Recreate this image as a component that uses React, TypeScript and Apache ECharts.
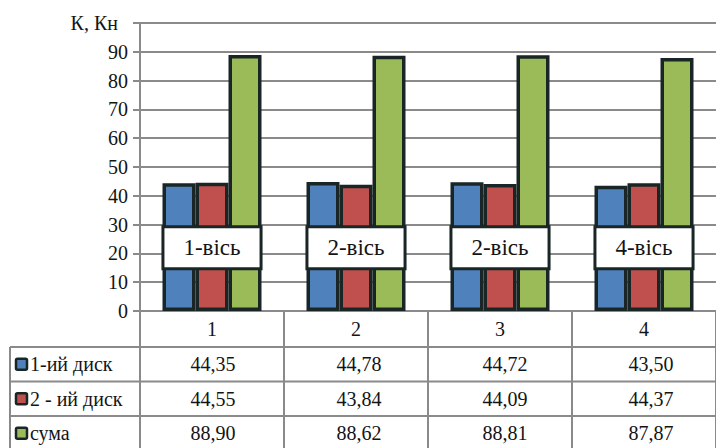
import React, { useEffect, useRef } from "react";
import * as echarts from "echarts";

// Axles 1..4, two discs per axle and their sum
const categories = ["1", "2", "3", "4"];
const disc1 = [44.35, 44.78, 44.72, 43.5];
const disc2 = [44.55, 43.84, 44.09, 44.37];
const total = [88.9, 88.62, 88.81, 87.87];
const seriesNames = ["1-ий диск", "2 - ий диск", "сума"];
const axleLabels = ["1-вісь", "2-вісь", "2-вісь", "4-вісь"];
const yTicks = { min: 0, max: 100, step: 10 };
const yTitle = "К, Кн";

const COLORS = ["#4F81BD", "#C0504D", "#9BBB59"];
const EDGE = "#1a2626";
const GRID_LINE = "#8a8a8a";
const TEXT = "#141414";
const FONT = "Liberation Serif, Times New Roman, serif";

// geometry of the plot and of the data table underneath
const W = 716;
const H = 448;
const PLOT_LEFT = 140;
const PLOT_TOP = 23;
const PLOT_BOTTOM = 311;
const CAT_W = 146;
const TABLE_LEFT = 10;
const ROW_H = 34.5;
const HEADER_H = 36;
const LABEL_LEVEL = 22;

export default function App() {
  const ref = useRef<HTMLDivElement>(null);

  useEffect(() => {
    if (!ref.current) return;
    const chart = echarts.init(ref.current, undefined, { renderer: "svg" });
    const seriesData = [disc1, disc2, total];
    const plotRight = PLOT_LEFT + CAT_W * categories.length;

    const textStyle = (extra: any) => ({
      fontSize: 20,
      fontFamily: FONT,
      fill: TEXT,
      ...extra,
    });

    const graphics: any[] = [];
    const firstRowTop = PLOT_BOTTOM + HEADER_H;
    // horizontal table rules
    for (let r = 0; r <= seriesData.length; r++) {
      const y = firstRowTop + r * ROW_H;
      graphics.push({
        type: "line",
        shape: { x1: TABLE_LEFT, y1: y, x2: plotRight, y2: y },
        style: { stroke: GRID_LINE, lineWidth: 2 },
        silent: true,
      });
    }
    // left edge of the legend column
    graphics.push({
      type: "line",
      shape: { x1: TABLE_LEFT, y1: firstRowTop, x2: TABLE_LEFT, y2: firstRowTop + ROW_H * 3 },
      style: { stroke: GRID_LINE, lineWidth: 2 },
      silent: true,
    });
    seriesData.forEach((vals, r) => {
      const cy = firstRowTop + r * ROW_H + ROW_H / 2;
      // legend key
      graphics.push({
        type: "rect",
        shape: { x: 16, y: cy - 5.5, width: 11, height: 11, r: 1.5 },
        style: { fill: COLORS[r], stroke: EDGE, lineWidth: 2.5 },
        silent: true,
      });
      graphics.push({
        type: "text",
        x: 30,
        y: cy,
        style: textStyle({ text: seriesNames[r], verticalAlign: "middle" }),
        silent: true,
      });
      vals.forEach((v, c) => {
        graphics.push({
          type: "text",
          x: PLOT_LEFT + CAT_W * c + CAT_W / 2,
          y: cy,
          style: textStyle({
            text: v.toFixed(2).replace(".", ","),
            align: "center",
            verticalAlign: "middle",
          }),
          silent: true,
        });
      });
    });

    const barSeries = seriesData.map((vals, i) => ({
      name: seriesNames[i],
      type: "bar",
      data: vals,
      barWidth: 33,
      barGap: "0%",
      itemStyle: { color: COLORS[i], borderColor: EDGE, borderWidth: 3.5 },
      z: 2,
    }));

    chart.setOption({
      animation: false,
      backgroundColor: "#ffffff",
      textStyle: { fontFamily: FONT },
      grid: {
        left: PLOT_LEFT,
        top: PLOT_TOP,
        width: CAT_W * categories.length,
        height: PLOT_BOTTOM - PLOT_TOP,
        containLabel: false,
      },
      xAxis: {
        type: "category",
        data: categories,
        axisLine: { show: true, lineStyle: { color: GRID_LINE, width: 2 } },
        axisTick: {
          show: true,
          inside: false,
          length: H - PLOT_BOTTOM + 4,
          lineStyle: { color: GRID_LINE, width: 2 },
        },
        axisLabel: {
          show: true,
          margin: 8,
          fontSize: 20,
          color: TEXT,
          fontFamily: FONT,
        },
        splitLine: { show: false },
      },
      yAxis: {
        type: "value",
        min: yTicks.min,
        max: yTicks.max,
        interval: yTicks.step,
        axisLine: { show: true, lineStyle: { color: GRID_LINE, width: 2 } },
        axisTick: { show: true, length: 7, lineStyle: { color: GRID_LINE, width: 2 } },
        axisLabel: {
          margin: 12,
          fontSize: 20,
          color: TEXT,
          fontFamily: FONT,
          formatter: (v: number) => (v === yTicks.max ? `{t|${yTitle}}` : String(v)),
          rich: { t: { fontSize: 20, fontFamily: FONT, color: TEXT, padding: [0, 10, 0, 0] } },
        },
        splitLine: { show: true, lineStyle: { color: GRID_LINE, width: 2 } },
      },
      series: [
        ...barSeries,
        {
          type: "scatter",
          data: axleLabels.map(() => LABEL_LEVEL),
          symbolSize: 1,
          itemStyle: { color: "rgba(0,0,0,0)", opacity: 1 },
          z: 10,
          label: {
            show: true,
            position: "inside",
            formatter: (p: any) => axleLabels[p.dataIndex],
            fontSize: 23,
            lineHeight: 27,
            fontFamily: FONT,
            color: TEXT,
            backgroundColor: "#ffffff",
            borderColor: EDGE,
            borderWidth: 3,
            padding: [6, 19, 6, 19],
          },
        },
      ],
      graphic: graphics,
    });

    return () => chart.dispose();
  }, []);

  return (
    <div
      ref={ref}
      style={{ position: "fixed", left: 0, top: 0, width: W, height: H, background: "#fff" }}
    />
  );
}
